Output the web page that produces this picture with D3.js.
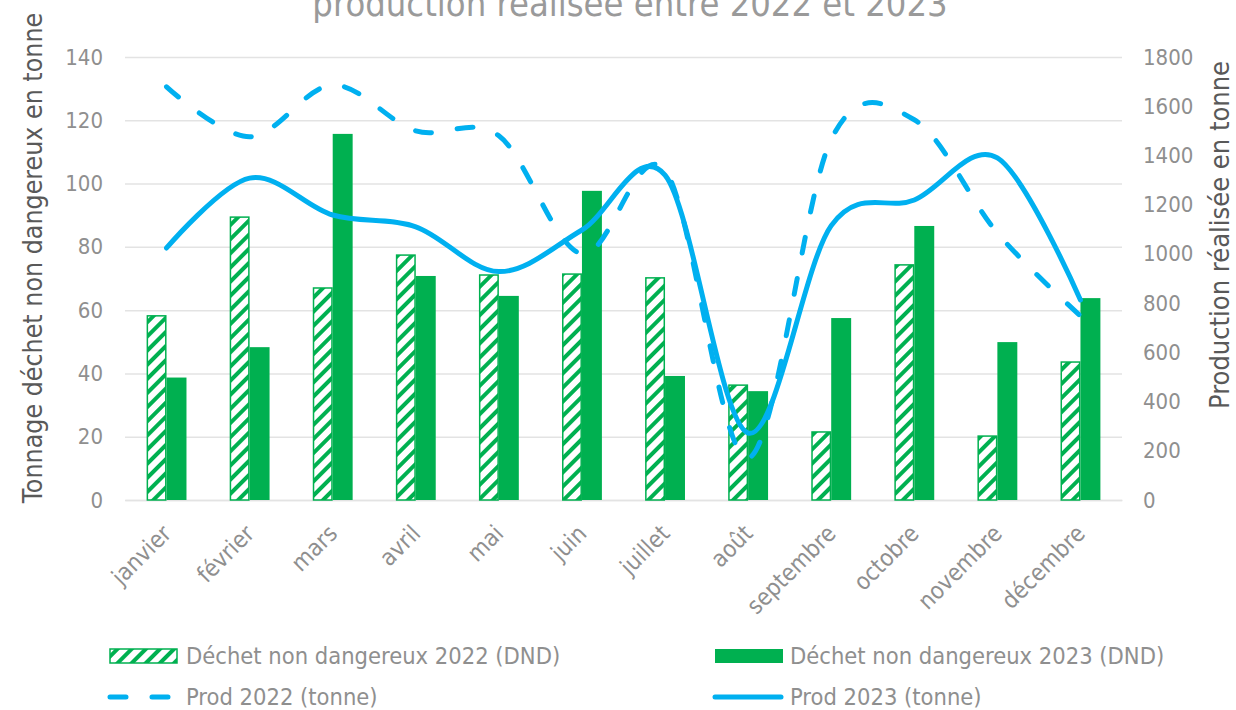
<!DOCTYPE html>
<html>
<head>
<meta charset="utf-8">
<title>DND et production</title>
<script src="https://d3js.org/d3.v7.min.js"></script>
<style>
  body { margin: 0; background: #fff; }
  text { font-family: "DejaVu Sans Condensed", "DejaVu Sans", sans-serif; }
</style>
</head>
<body>
<div id="chart"></div>
<script>
// data
var months = ["janvier", "février", "mars", "avril", "mai", "juin",
              "juillet", "août", "septembre", "octobre", "novembre", "décembre"];
var dnd2022 = [58.2, 89.4, 67.0, 77.4, 71.1, 71.4, 70.2, 36.3, 21.5, 74.3, 20.2, 43.6];
var dnd2023 = [38.7, 48.3, 115.7, 70.8, 64.5, 97.7, 39.2, 34.4, 57.5, 86.6, 49.9, 63.8];
var prod2022 = [1679, 1476, 1686, 1500, 1480, 1000, 1340, 170, 1465, 1545, 1085, 748];
var prod2023 = [1024, 1308, 1158, 1110, 928, 1097, 1320, 272, 1115, 1219, 1390, 813];
var leftTicks = [0, 20, 40, 60, 80, 100, 120, 140];
var rightTicks = [0, 200, 400, 600, 800, 1000, 1200, 1400, 1600, 1800];

var width = 1236, height = 710;
var plotL = 125, plotR = 1122, plotT = 57, plotB = 500;
var green = "#00b050", blue = "#00b0f0", grey = "#8f8f8f";

var svg = d3.select("#chart")
            .append("svg")
            .attr("width", width)
            .attr("height", height);

// hatch for the 2022 bars
var defs = svg.append("defs");
var pat = defs.append("pattern")
              .attr("id", "hatch")
              .attr("patternUnits", "userSpaceOnUse")
              .attr("width", 10)
              .attr("height", 10)
              .attr("patternTransform", "rotate(45)");
pat.append("rect").attr("width", 10).attr("height", 10).attr("fill", "#fff");
pat.append("rect").attr("x", 0).attr("width", 4).attr("height", 10).attr("fill", green);

// scales
var x = d3.scaleBand()
          .domain(months)
          .range([plotL, plotR])
          .paddingInner(0.52)
          .paddingOuter(0.26);

var xSub = d3.scaleBand()
             .domain(["2022", "2023"])
             .range([0, x.bandwidth()]);

var y = d3.scaleLinear().domain([0, 140]).range([plotB, plotT]);
var y2 = d3.scaleLinear().domain([0, 1800]).range([plotB, plotT]);

// gridlines + left axis
var gLeft = svg.append("g")
   .attr("transform", "translate(" + plotL + ",0)")
   .call(d3.axisLeft(y).tickValues(leftTicks).tickSize(-(plotR - plotL)).tickPadding(22));
gLeft.select(".domain").remove();
gLeft.selectAll(".tick line").attr("stroke", "#e3e3e3").attr("stroke-width", 1.5);
gLeft.selectAll(".tick text").attr("fill", grey).style("font-size", "22px");

// right axis
var gRight = svg.append("g")
   .attr("transform", "translate(" + plotR + ",0)")
   .call(d3.axisRight(y2).tickValues(rightTicks).tickFormat(d3.format("d"))
           .tickSize(0).tickPadding(21));
gRight.select(".domain").remove();
gRight.selectAll(".tick text").attr("fill", grey).style("font-size", "22px");

// x axis labels
var gx = svg.append("g")
   .attr("transform", "translate(0," + plotB + ")")
   .call(d3.axisBottom(x).tickSize(0).tickPadding(0));
gx.select(".domain").attr("stroke", "#e3e3e3").attr("stroke-width", 1.5);
gx.selectAll(".tick text")
  .attr("fill", grey)
  .style("font-size", "23.5px")
  .attr("text-anchor", "end")
  .attr("dy", 0)
  .attr("transform", "translate(6,35) rotate(-45)");

// bars
svg.selectAll(".bar22")
   .data(dnd2022)
   .enter()
   .append("rect")
   .attr("class", "bar22")
   .attr("x", function(d, i) { return x(months[i]) + xSub("2022") + 0.75; })
   .attr("y", function(d) { return y(d); })
   .attr("width", xSub.bandwidth() - 1.5)
   .attr("height", function(d) { return plotB - y(d); })
   .attr("fill", "url(#hatch)")
   .attr("stroke", green)
   .attr("stroke-width", 1.5);

svg.selectAll(".bar23")
   .data(dnd2023)
   .enter()
   .append("rect")
   .attr("class", "bar23")
   .attr("x", function(d, i) { return x(months[i]) + xSub("2023"); })
   .attr("y", function(d) { return y(d); })
   .attr("width", xSub.bandwidth())
   .attr("height", function(d) { return plotB - y(d); })
   .attr("fill", green);

// lines
var line = d3.line()
             .x(function(d, i) { return x(months[i]) + x.bandwidth() / 2; })
             .y(function(d) { return y2(d); })
             .curve(d3.curveCatmullRom.alpha(0));

svg.append("path")
   .datum(prod2022)
   .attr("d", line)
   .attr("fill", "none")
   .attr("stroke", blue)
   .attr("stroke-width", 5)
   .attr("stroke-linecap", "round")
   .attr("stroke-dasharray", "16,26");

svg.append("path")
   .datum(prod2023)
   .attr("d", line)
   .attr("fill", "none")
   .attr("stroke", blue)
   .attr("stroke-width", 5)
   .attr("stroke-linecap", "round");

// titles
svg.append("text")
   .attr("x", 630)
   .attr("y", 16)
   .attr("text-anchor", "middle")
   .attr("fill", "#9a9a9a")
   .style("font-size", "36px")
   .text("production réalisée entre 2022 et 2023");

svg.append("text")
   .attr("transform", "translate(42,258) rotate(-90)")
   .attr("text-anchor", "middle")
   .attr("fill", "#595959")
   .style("font-size", "26.5px")
   .text("Tonnage déchet  non dangereux en tonne");

svg.append("text")
   .attr("transform", "translate(1229,235) rotate(-90)")
   .attr("text-anchor", "middle")
   .attr("fill", "#595959")
   .style("font-size", "27px")
   .text("Production réalisée en tonne");

// legend
var leg = svg.append("g");
leg.append("rect").attr("x", 110).attr("y", 649).attr("width", 67).attr("height", 14)
   .attr("fill", "url(#hatch)").attr("stroke", green).attr("stroke-width", 1.5);
leg.append("text").attr("x", 186).attr("y", 664).attr("fill", grey).style("font-size", "23.5px")
   .text("Déchet non dangereux 2022 (DND)");

leg.append("rect").attr("x", 715).attr("y", 649).attr("width", 68).attr("height", 14)
   .attr("fill", green);
leg.append("text").attr("x", 790).attr("y", 664).attr("fill", grey).style("font-size", "23.5px")
   .text("Déchet non dangereux 2023 (DND)");

leg.append("line").attr("x1", 110).attr("x2", 172).attr("y1", 697).attr("y2", 697)
   .attr("stroke", blue).attr("stroke-width", 5).attr("stroke-linecap", "round")
   .attr("stroke-dasharray", "16,26");
leg.append("text").attr("x", 186).attr("y", 705).attr("fill", grey).style("font-size", "23.5px")
   .text("Prod 2022 (tonne)");

leg.append("line").attr("x1", 715).attr("x2", 781).attr("y1", 697).attr("y2", 697)
   .attr("stroke", blue).attr("stroke-width", 5).attr("stroke-linecap", "round");
leg.append("text").attr("x", 790).attr("y", 705).attr("fill", grey).style("font-size", "23.5px")
   .text("Prod 2023 (tonne)");
</script>
</body>
</html>
